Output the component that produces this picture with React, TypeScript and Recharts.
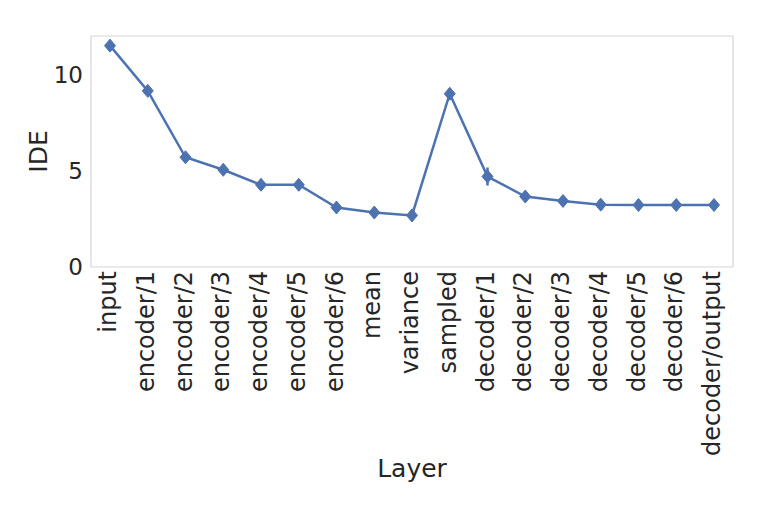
import { LineChart, Line, XAxis, YAxis, ErrorBar } from "recharts";

const layers = [
  "input",
  "encoder/1",
  "encoder/2",
  "encoder/3",
  "encoder/4",
  "encoder/5",
  "encoder/6",
  "mean",
  "variance",
  "sampled",
  "decoder/1",
  "decoder/2",
  "decoder/3",
  "decoder/4",
  "decoder/5",
  "decoder/6",
  "decoder/output",
];
const ideMean = [11.5, 9.15, 5.7, 5.05, 4.27, 4.27, 3.09, 2.83, 2.68, 9.0, 4.7, 3.66, 3.43, 3.24, 3.22, 3.22, 3.22];
const ideErr = [0.08, 0.08, 0.1, 0.1, 0.08, 0.08, 0.18, 0.1, 0.08, 0.08, 0.47, 0.22, 0.22, 0.26, 0.26, 0.26, 0.26];
const yTicks = [0, 5, 10];

const data = layers.map((name, i) => ({ name, ide: ideMean[i], err: ideErr[i] }));

const BLUE = "#4c72b0";
const TEXT = "#262626";
const FRAME = "#d6d6d6";
const FONT = "DejaVu Sans";

// rotated category label, reading bottom to top
const LayerTick = ({ x, y, payload }: any) => (
  <text
    transform={`translate(${x},${y - 4}) rotate(-90)`}
    textAnchor="end"
    dy={6}
    fontSize={24}
    fontFamily={FONT}
    fill={TEXT}
  >
    {payload.value}
  </text>
);

const Diamond = ({ cx, cy, index }: any) => (
  <polygon
    key={index}
    points={`${cx},${cy - 6.5} ${cx + 5.5},${cy} ${cx},${cy + 6.5} ${cx - 5.5},${cy}`}
    fill={BLUE}
    stroke={BLUE}
  />
);

const App = () => {
  return (
    <div style={{ position: "absolute", left: 0, top: 0, background: "#fff" }}>
      <LineChart width={761} height={508} data={data} margin={{ top: 35, right: 27, left: 0, bottom: 0 }}>
        <XAxis
          dataKey="name"
          interval={0}
          height={241}
          padding={{ left: 19, right: 19 }}
          tick={<LayerTick />}
          tickLine={false}
          axisLine={{ stroke: FRAME, strokeWidth: 1.2 }}
          label={({ viewBox }: any) => (
            <text
              x={viewBox.x + viewBox.width / 2}
              y={477}
              textAnchor="middle"
              fontSize={25}
              fontFamily={FONT}
              fill={TEXT}
            >
              Layer
            </text>
          )}
        />
        <XAxis
          xAxisId="top"
          orientation="top"
          dataKey="name"
          height={1}
          tick={false}
          tickLine={false}
          axisLine={{ stroke: FRAME, strokeWidth: 1.2 }}
        />
        <YAxis
          domain={[0, 12]}
          ticks={yTicks}
          width={91}
          tickLine={false}
          tickSize={0}
          tickMargin={8}
          axisLine={{ stroke: FRAME, strokeWidth: 1.2 }}
          tick={{ fontSize: 23, fontFamily: FONT, fill: TEXT }}
          label={({ viewBox }: any) => (
            <text
              transform={`translate(47,${viewBox.y + viewBox.height / 2}) rotate(-90)`}
              textAnchor="middle"
              fontSize={25}
              fontFamily={FONT}
              fill={TEXT}
            >
              IDE
            </text>
          )}
        />
        <YAxis
          yAxisId="right"
          orientation="right"
          domain={[0, 12]}
          width={1}
          tick={false}
          tickLine={false}
          axisLine={{ stroke: FRAME, strokeWidth: 1.2 }}
        />
        <Line
          dataKey="ide"
          stroke={BLUE}
          strokeWidth={2.5}
          dot={<Diamond />}
          activeDot={false}
          isAnimationActive={false}
        >
          <ErrorBar dataKey="err" width={0} stroke={BLUE} strokeWidth={2.5} direction="y" />
        </Line>
      </LineChart>
    </div>
  );
};

export default App;
